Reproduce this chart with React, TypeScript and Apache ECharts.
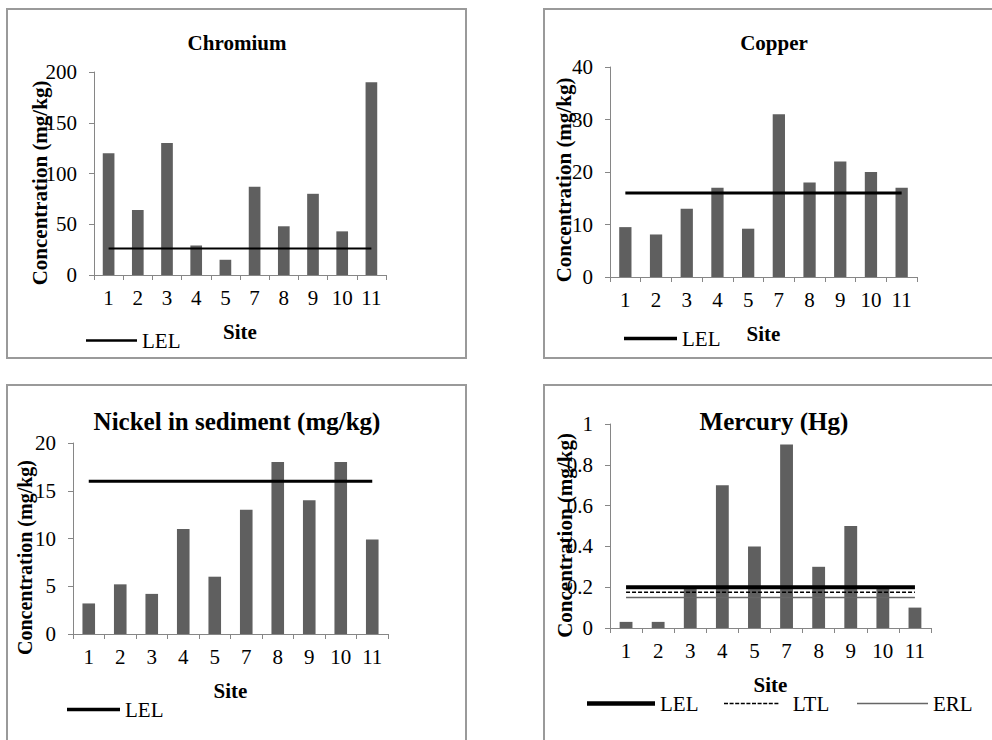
import React, { useEffect, useRef } from "react";
import * as echarts from "echarts";

const sites = ["1", "2", "3", "4", "5", "7", "8", "9", "10", "11"];
const chromium = [120, 64, 130, 29, 15, 87, 48, 80, 43, 190];
const copper = [9.5, 8.1, 13, 17, 9.2, 31, 18, 22, 20, 17];
const nickel = [3.2, 5.2, 4.2, 11, 6, 13, 18, 14, 18, 9.9];
const mercury = [0.03, 0.03, 0.2, 0.7, 0.4, 0.9, 0.3, 0.5, 0.2, 0.1];

const chromiumLEL = 26;
const copperLEL = 16;
const nickelLEL = 16;
const mercuryLEL = 0.2;
const mercuryLTL = 0.175;
const mercuryERL = 0.15;

const titles = ["Chromium", "Copper", "Nickel in sediment (mg/kg)", "Mercury (Hg)"];
const yAxisTitle = "Concentration (mg/kg)";
const xAxisTitle = "Site";

const FONT = "Liberation Serif";
const BAR = "#5f5f5f";
const AXIS = "#868686";
const ERL_COLOR = "#666666";

const level = (v: number) => sites.map(() => v);

// dashed legend icon (10 dashes)
const DASH_ICON =
  "path://M0,0h5v2h-5z M7,0h5v2h-5z M14,0h5v2h-5z M21,0h5v2h-5z M28,0h5v2h-5z M35,0h5v2h-5z M42,0h5v2h-5z M49,0h5v2h-5z M56,0h5v2h-5z M63,0h5v2h-5z";

export default function App() {
  const ref = useRef<HTMLDivElement>(null);
  useEffect(() => {
    if (!ref.current) return;
    const chart = echarts.init(ref.current, undefined, { renderer: "svg" });

    const grids = [
      { left: 94, top: 72, width: 292, height: 203 },
      { left: 610, top: 67, width: 307, height: 210 },
      { left: 73, top: 443, width: 315, height: 191 },
      { left: 610, top: 424, width: 321, height: 204 },
    ];
    const yCfg = [
      { max: 200, interval: 50, gap: 44, pad: 19, size: 21 },
      { max: 40, interval: 10, gap: 36, pad: 16, size: 21 },
      { max: 20, interval: 5, gap: 38, pad: 38, size: 20 },
      { max: 1, interval: 0.2, gap: 35, pad: 19, size: 21 },
    ];

    const xAxis = grids.map((_, i) => ({
      type: "category",
      gridIndex: i,
      data: sites,
      boundaryGap: true,
      axisLine: { show: true, lineStyle: { color: AXIS, width: 1 } },
      axisTick: { show: true, length: 5, interval: 0, lineStyle: { color: AXIS } },
      axisLabel: { interval: 0, margin: 12, color: "#000", fontSize: 21, fontFamily: FONT },
      name: xAxisTitle,
      nameLocation: "middle",
      nameGap: 46,
      nameMoveOverlap: false,
      nameTextStyle: { color: "#000", fontSize: 21, fontWeight: "bold", fontFamily: FONT },
      splitLine: { show: false },
    }));

    const yAxis = yCfg.map((c, i) => ({
      type: "value",
      gridIndex: i,
      min: 0,
      max: c.max,
      interval: c.interval,
      axisLine: { show: true, lineStyle: { color: AXIS, width: 1 } },
      axisTick: { show: true, length: 5, lineStyle: { color: AXIS } },
      axisLabel: { margin: 17, color: "#000", fontSize: 21, fontFamily: FONT },
      splitLine: { show: false },
      name: yAxisTitle,
      nameLocation: "middle",
      nameGap: c.gap,
      nameMoveOverlap: false,
      nameTextStyle: {
        color: "#000",
        fontSize: c.size,
        fontWeight: "bold",
        fontFamily: FONT,
        padding: [0, c.pad, 0, 0],
      },
    }));

    const barData = [chromium, copper, nickel, mercury];
    const bars = barData.map((d, i) => ({
      type: "bar",
      name: "conc" + i,
      xAxisIndex: i,
      yAxisIndex: i,
      data: d,
      barWidth: "40%",
      itemStyle: { color: BAR },
    }));

    const lineSeries = (name: string, i: number, v: number, style: any) => ({
      type: "line",
      name,
      xAxisIndex: i,
      yAxisIndex: i,
      data: level(v),
      symbol: "none",
      itemStyle: { color: style.color },
      lineStyle: style,
      z: 3,
    });

    const lines = [
      lineSeries("LEL", 0, chromiumLEL, { color: "#000", width: 2 }),
      lineSeries("LEL ", 1, copperLEL, { color: "#000", width: 3 }),
      lineSeries("LEL  ", 2, nickelLEL, { color: "#000", width: 3 }),
      lineSeries("LEL   ", 3, mercuryLEL, { color: "#000", width: 4 }),
      lineSeries("LTL", 3, mercuryLTL, { color: "#000", width: 1.5, type: [4, 2] }),
      lineSeries("ERL", 3, mercuryERL, { color: ERL_COLOR, width: 1.5 }),
    ];

    const legendBase = {
      orient: "horizontal",
      padding: 0,
      icon: "rect",
      textStyle: { color: "#000", fontSize: 21, fontFamily: FONT },
      formatter: (n: string) => n.trim(),
      selectedMode: false,
    };

    const legend = [
      { ...legendBase, data: ["LEL"], left: 86, top: 330, itemWidth: 51, itemHeight: 2.5 },
      { ...legendBase, data: ["LEL "], left: 624, top: 328, itemWidth: 53, itemHeight: 3.5 },
      { ...legendBase, data: ["LEL  "], left: 67, top: 699, itemWidth: 53, itemHeight: 3.5 },
      { ...legendBase, data: ["LEL   "], left: 587, top: 693, itemWidth: 68, itemHeight: 4.5 },
      { ...legendBase, data: ["LTL"], icon: DASH_ICON, left: 724, top: 693, itemWidth: 73, itemHeight: 1.6 },
      { ...legendBase, data: ["ERL"], left: 857, top: 693, itemWidth: 71, itemHeight: 1.5 },
    ];

    const titleCfg = [
      { x: 237, y: 32, size: 21 },
      { x: 774, y: 32, size: 21 },
      { x: 237, y: 409, size: 25 },
      { x: 774, y: 409, size: 25 },
    ];
    const title = titles.map((t, i) => ({
      text: t,
      left: titleCfg[i].x,
      top: titleCfg[i].y,
      textAlign: "center",
      padding: 0,
      textStyle: { color: "#000", fontSize: titleCfg[i].size, fontWeight: "bold", fontFamily: FONT },
    }));

    const border = { fill: "none", stroke: "#9a9a9a", lineWidth: 2 };
    const graphic = [
      { type: "rect", z: -10, shape: { x: 7, y: 9, width: 459, height: 349 }, style: border },
      { type: "rect", z: -10, shape: { x: 544, y: 9, width: 470, height: 349 }, style: border },
      { type: "rect", z: -10, shape: { x: 7, y: 385, width: 459, height: 420 }, style: border },
      { type: "rect", z: -10, shape: { x: 544, y: 385, width: 470, height: 420 }, style: border },
    ];

    chart.setOption({
      animation: false,
      backgroundColor: "#fff",
      title,
      grid: grids,
      xAxis,
      yAxis,
      legend,
      graphic,
      series: [...bars, ...lines],
    } as any);

    return () => chart.dispose();
  }, []);

  return (
    <div
      ref={ref}
      style={{ position: "absolute", left: 0, top: 0, width: 992, height: 740 }}
    />
  );
}
